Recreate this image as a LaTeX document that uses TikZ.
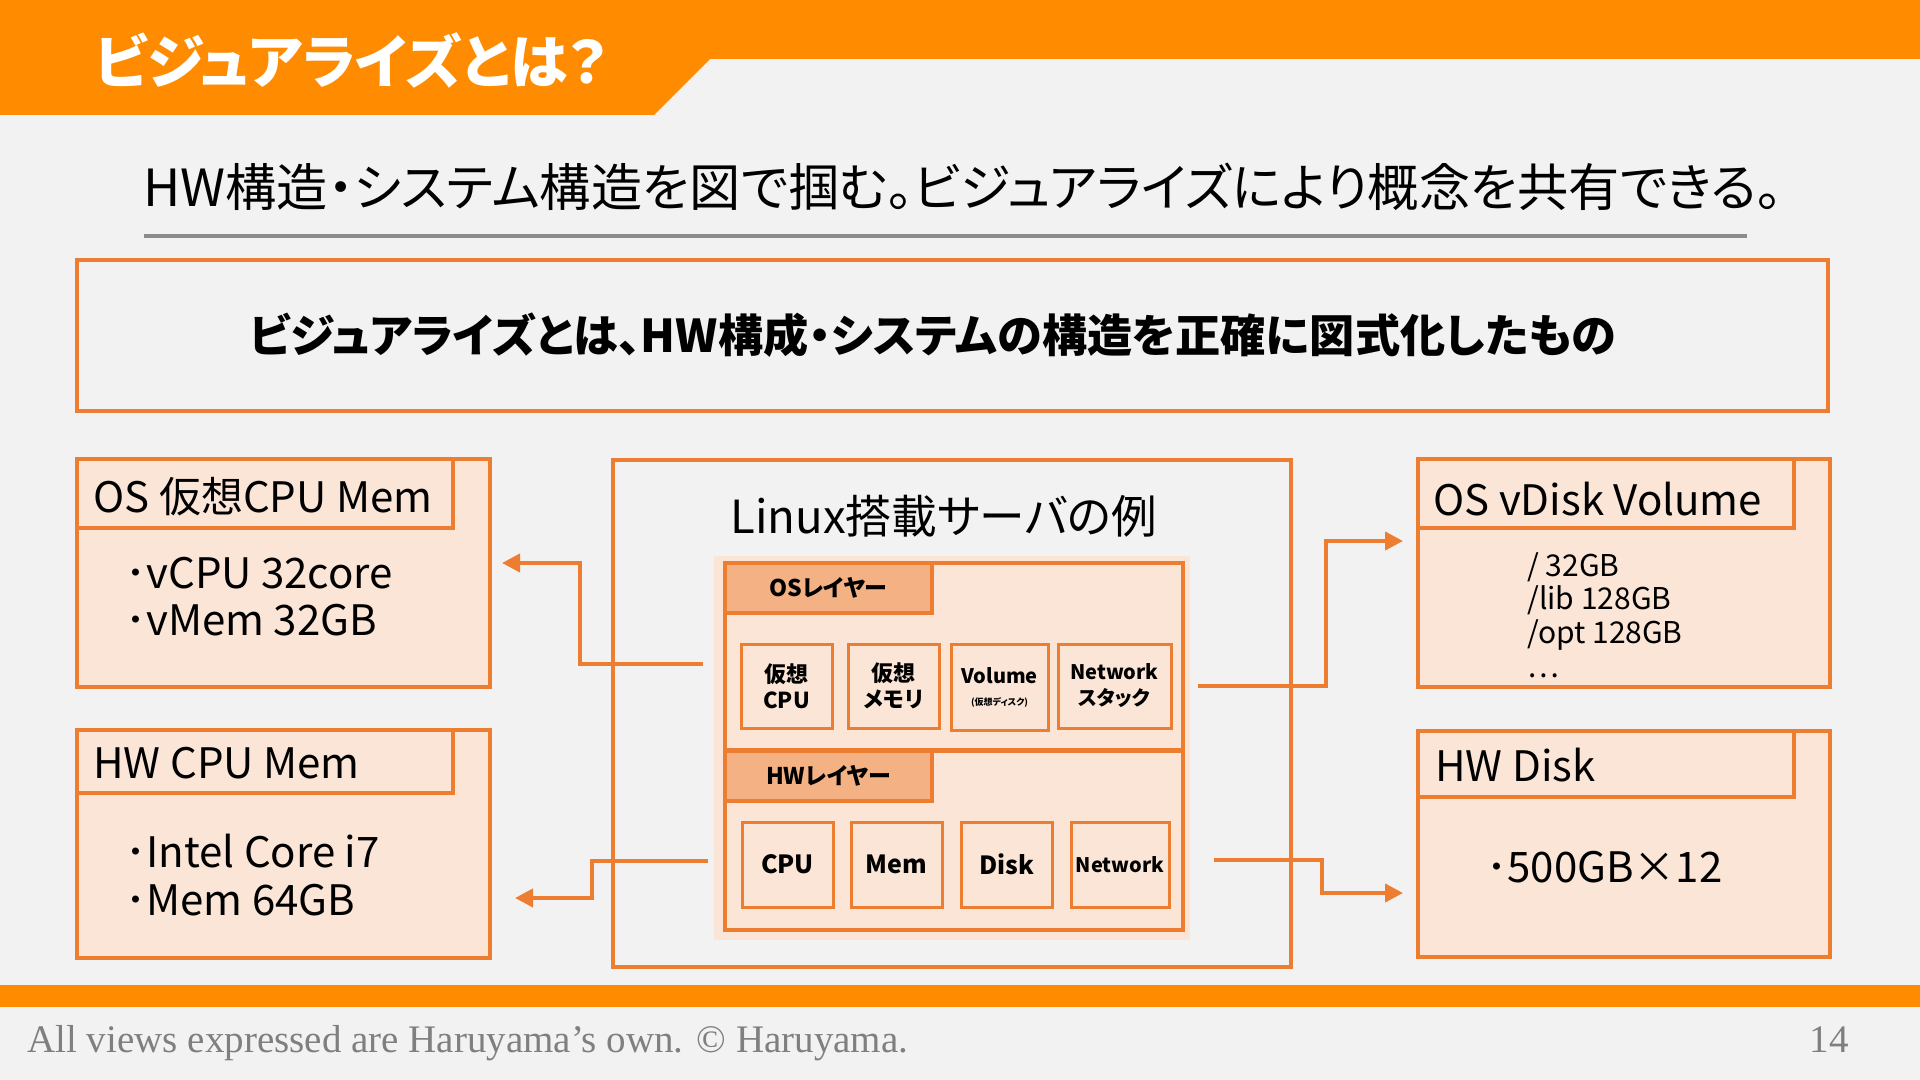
\documentclass[tikz,border=0pt]{standalone}
\usepackage{fontspec}
\setmainfont{Noto Sans CJK JP}[RawFeature=+palt]
\newfontfamily\footfont{Liberation Serif}
\usetikzlibrary{arrows.meta,fit}
\definecolor{band}{HTML}{FF8C00}
\definecolor{boxor}{HTML}{ED7D31}
\definecolor{peach}{HTML}{FBE5D6}
\definecolor{tabfill}{HTML}{F4B183}
\definecolor{slidebg}{HTML}{F2F2F2}
\definecolor{rulegray}{HTML}{8C8C8C}
\definecolor{footgray}{HTML}{7F7F7F}
\tikzset{
  panel/.style={draw=boxor, line width=2pt, fill=peach, inner sep=0pt},
  frame/.style={draw=boxor, line width=2pt, inner sep=0pt},
  comp/.style={draw=boxor, line width=1.5pt, fill=peach, inner sep=0pt, align=center, font=\bfseries\fontsize{11}{13}\selectfont},
  layertab/.style={draw=boxor, line width=2pt, fill=tabfill, inner sep=0pt, font=\bfseries\fontsize{11.5}{12}\selectfont},
  txt/.style={inner sep=0pt, anchor=base west},
  big/.style={font=\fontsize{21}{21}\selectfont},
  link/.style={draw=boxor, line width=2pt, -{Triangle[length=9pt,width=9pt]}}
}
\begin{document}
\begin{tikzpicture}[x=0.5pt, y=-0.5pt]
\useasboundingbox (0,0) rectangle (1920,1080);
\fill [slidebg] (0,0) rectangle (1920,1080);
\fill [band] (0,0) -- (1920,0) -- (1920,59) -- (710,59) -- (654,115) -- (0,115) -- cycle;
\fill [band] (0,985) rectangle (1920,1007);

\node [txt, text=white, font=\bfseries\fontsize{29}{29}\selectfont] (title) at (94,84) {ビジュアライズとは？};
\node [txt, font=\fontsize{25.6}{26}\selectfont] (lead) at (143,207) {HW構造・システム構造を図で掴む。ビジュアライズにより概念を共有できる。};
\draw [rulegray, line width=2pt] (144,236) -- (1747,236);

\node [frame, fit={(77,260) (1828,411)}] (defbox) {};
\node [txt, anchor=base, font=\bfseries\fontsize{22.6}{23}\selectfont] (defn) at (933,352) {ビジュアライズとは、HW構成・システムの構造を正確に図式化したもの};

\node [panel, fit={(77,459) (490,687)}] (osvirt) {};
\node [panel, fit={(77,459) (453,528)}] (osvirttab) {};
\node [txt, big] (osvirttitle) at (93,512) {OS 仮想CPU Mem};
\node [txt, big] (osvirt1) at (125,588) {･vCPU 32core};
\node [txt, big] (osvirt2) at (125,635) {･vMem 32GB};

\node [panel, fit={(77,730) (490,958)}] (hwcpu) {};
\node [panel, fit={(77,730) (453,793)}] (hwcputab) {};
\node [txt, big] (hwcputitle) at (93,778) {HW CPU Mem};
\node [txt, big] (hwcpu1) at (125,867) {･Intel Core i7};
\node [txt, big] (hwcpu2) at (125,915) {･Mem 64GB};

\node [panel, fit={(1418,459) (1830,687)}] (osvol) {};
\node [panel, fit={(1418,459) (1794,528)}] (osvoltab) {};
\node [txt, big] (osvoltitle) at (1433,515) {OS vDisk Volume};
\node [txt, font=\fontsize{15}{15}\selectfont] (osvol1) at (1527,576) {/ 32GB};
\node [txt, font=\fontsize{15}{15}\selectfont] (osvol2) at (1527,609.5) {/lib 128GB};
\node [txt, font=\fontsize{15}{15}\selectfont] (osvol3) at (1527,643) {/opt 128GB};
\node [txt, font=\fontsize{15}{15}\selectfont] (osvol4) at (1527,677) {…};

\node [panel, fit={(1418,731) (1830,957)}] (hwdisk) {};
\node [panel, fit={(1418,731) (1794,797)}] (hwdisktab) {};
\node [txt, big] (hwdisktitle) at (1435,781) {HW Disk};
\node [txt, big] (hwdisk1) at (1486,882) {･500GB×12};

\node [frame, fit={(613,460) (1291,967)}] (server) {};
\node [txt, font=\fontsize{22.8}{23}\selectfont] (servertitle) at (730,533) {Linux搭載サーバの例};
\fill [peach] (714,556) rectangle (1190,940);
\node [frame, fit={(725,563) (1183,750)}] (oslayer) {};
\node [frame, fit={(725,751) (1183,930)}] (hwlayer) {};
\node [layertab, minimum width=103.5pt, minimum height=25pt] (oslayertab) at (828.5,588) {OSレイヤー};
\node [layertab, minimum width=103.5pt, minimum height=25pt] (hwlayertab) at (828.5,776) {HWレイヤー};

\node [comp, minimum width=45.5pt, minimum height=42pt] (vcpu) at (786.5,686) {仮想\\CPU};
\node [comp, minimum width=45.5pt, minimum height=42pt] (vmem) at (893.5,686) {仮想\\メモリ};
\node [comp, minimum width=48.5pt, minimum height=43pt, font=\bfseries\fontsize{10}{11}\selectfont] (vdisk) at (999.5,687) {Volume\\{\fontsize{4.5}{5}\selectfont (仮想ディスク)}};
\node [comp, minimum width=56.5pt, minimum height=42pt, font=\bfseries\fontsize{10}{13}\selectfont] (vnet) at (1114.5,686) {Network\\スタック};

\node [comp, minimum width=45.5pt, minimum height=42.5pt, font=\bfseries\fontsize{12.5}{13}\selectfont] (cpu) at (787.5,864.5) {CPU};
\node [comp, minimum width=45.5pt, minimum height=42.5pt, font=\bfseries\fontsize{12.5}{13}\selectfont] (mem) at (896.5,864.5) {Mem};
\node [comp, minimum width=45.5pt, minimum height=42.5pt, font=\bfseries\fontsize{12.5}{13}\selectfont] (disk) at (1006.5,864.5) {Disk};
\node [comp, minimum width=49pt, minimum height=42.5pt, font=\bfseries\fontsize{10}{11}\selectfont] (net) at (1120,864.5) {Network};

\coordinate (osout) at (703,664);
\coordinate (osin) at (502,563);
\coordinate (hwout) at (708,861);
\coordinate (hwin) at (515,898);
\coordinate (volout) at (1198,686);
\coordinate (volin) at (1403,541);
\coordinate (diskout) at (1214,860);
\coordinate (diskin) at (1403,893);
\draw [link] (osout) -- ++(-123,0) |- (osin);
\draw [link] (hwout) -- ++(-116,0) |- (hwin);
\draw [link] (volout) -- ++(128,0) |- (volin);
\draw [link] (diskout) -- ++(108,0) |- (diskin);

\node [txt, text=footgray, font=\footfont\fontsize{19.5}{19.5}\selectfont] (credit) at (27,1052) {All views expressed are Haruyama’s own. © Haruyama.};
\node [txt, anchor=base east, text=footgray, font=\footfont\fontsize{19.5}{19.5}\selectfont] (pageno) at (1849,1052) {14};
\end{tikzpicture}
\end{document}
